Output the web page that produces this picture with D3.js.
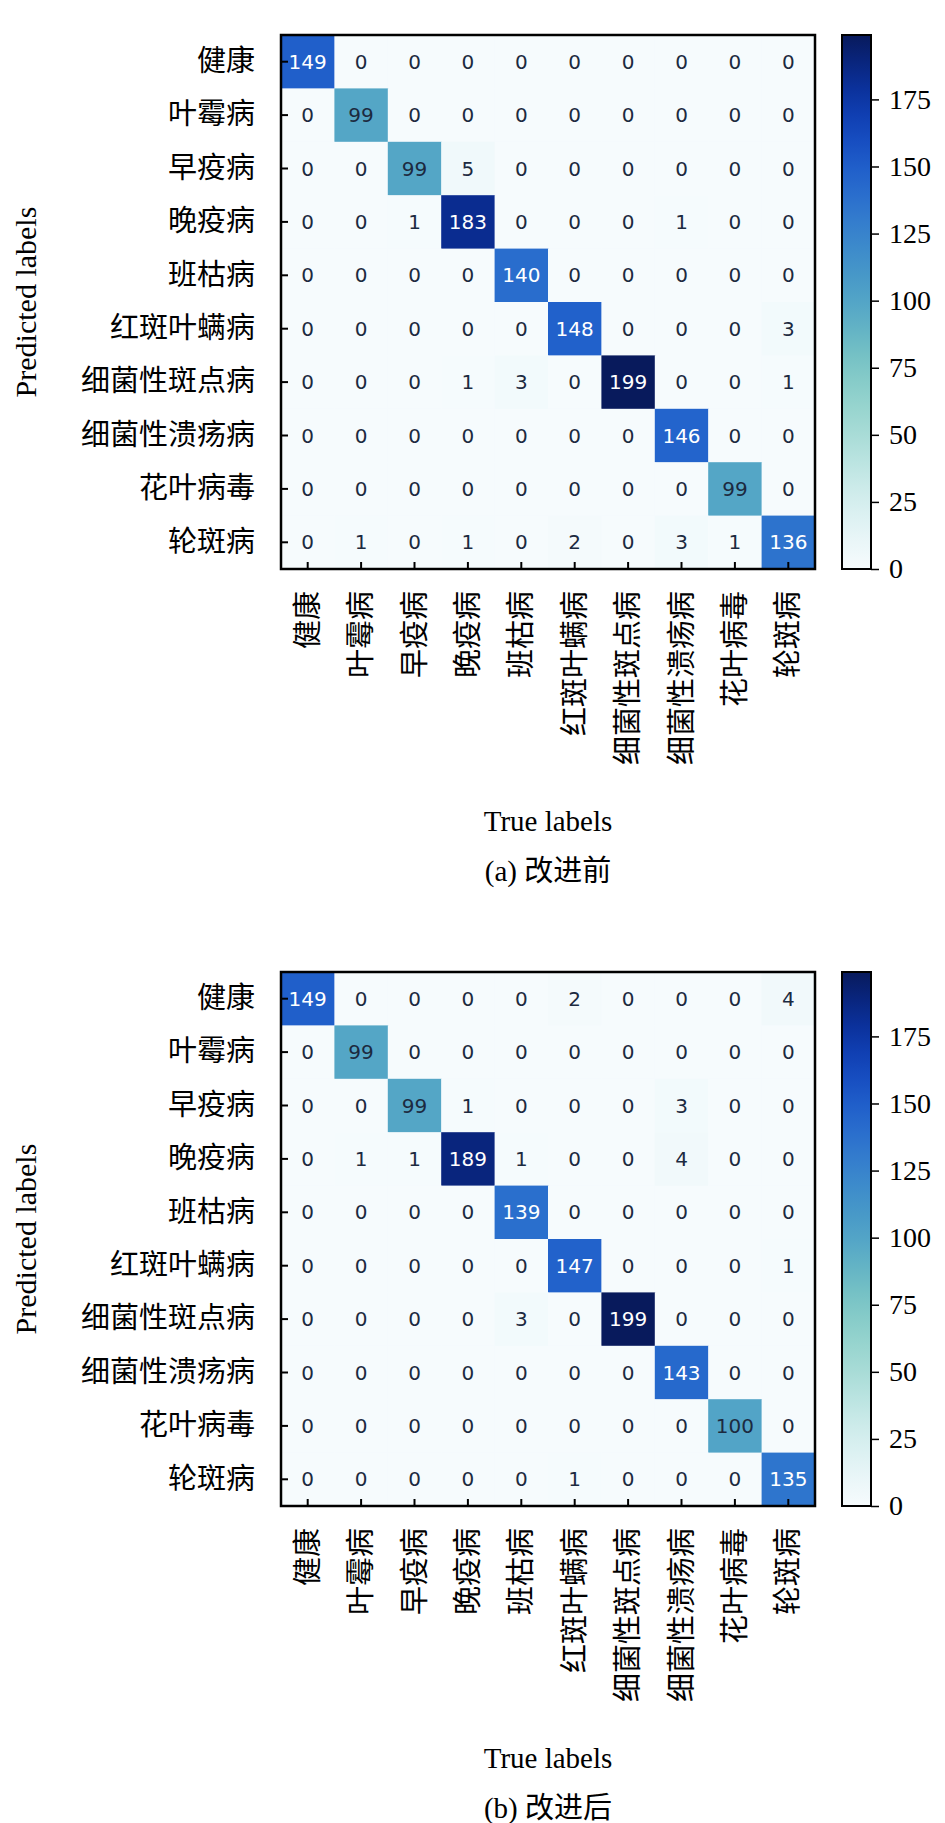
<!DOCTYPE html>
<meta charset="utf-8" />
<script src="https://d3js.org/d3.v7.min.js"></script>
<style>
  body { margin: 0; background: #fff; }
</style>
<div id="chart"></div>
<script>
  const labels = ['健康', '叶霉病', '早疫病', '晚疫病', '班枯病', '红斑叶螨病', '细菌性斑点病', '细菌性溃疡病', '花叶病毒', '轮斑病'];
  // rows = predicted, cols = true
  const matrixBefore = [
    [149, 0, 0, 0, 0, 0, 0, 0, 0, 0],
    [0, 99, 0, 0, 0, 0, 0, 0, 0, 0],
    [0, 0, 99, 5, 0, 0, 0, 0, 0, 0],
    [0, 0, 1, 183, 0, 0, 0, 1, 0, 0],
    [0, 0, 0, 0, 140, 0, 0, 0, 0, 0],
    [0, 0, 0, 0, 0, 148, 0, 0, 0, 3],
    [0, 0, 0, 1, 3, 0, 199, 0, 0, 1],
    [0, 0, 0, 0, 0, 0, 0, 146, 0, 0],
    [0, 0, 0, 0, 0, 0, 0, 0, 99, 0],
    [0, 1, 0, 1, 0, 2, 0, 3, 1, 136],
  ];
  const matrixAfter = [
    [149, 0, 0, 0, 0, 2, 0, 0, 0, 4],
    [0, 99, 0, 0, 0, 0, 0, 0, 0, 0],
    [0, 0, 99, 1, 0, 0, 0, 3, 0, 0],
    [0, 1, 1, 189, 1, 0, 0, 4, 0, 0],
    [0, 0, 0, 0, 139, 0, 0, 0, 0, 0],
    [0, 0, 0, 0, 0, 147, 0, 0, 0, 1],
    [0, 0, 0, 0, 3, 0, 199, 0, 0, 0],
    [0, 0, 0, 0, 0, 0, 0, 143, 0, 0],
    [0, 0, 0, 0, 0, 0, 0, 0, 100, 0],
    [0, 0, 0, 0, 0, 1, 0, 0, 0, 135],
  ];
  const colorTicks = [0, 25, 50, 75, 100, 125, 150, 175];
  const captions = ['(a) 改进前', '(b) 改进后'];

  const W = 945, H = 1823;
  const svg = d3.select('#chart').append('svg').attr('width', W).attr('height', H);
  const serif = '"Liberation Serif", "Times New Roman", serif';
  const cjk = '"Liberation Serif", "Noto Sans CJK SC", serif';
  // white -> teal -> blue -> navy, like the figure's colormap
  const cmapStops = ['#f6fbfd', '#d8eff1', '#a8dcd6', '#7fcbc3', '#4ea3c6', '#3a86cc', '#1f5fd0', '#0a35b0', '#081a5c'];
  const cmap = d3.interpolateRgbBasis(cmapStops);
  const color = d3.scaleSequential(cmap).domain([0, 199]);

  function panel(mat, top, caption) {
    const left = 281, size = 534;
    const g = svg.append('g').attr('transform', `translate(${left},${top})`);
    const x = d3.scaleBand().domain(d3.range(10)).range([0, size]);
    const y = d3.scaleBand().domain(d3.range(10)).range([0, size]);
    const cells = [];
    mat.forEach((row, i) => row.forEach((v, j) => cells.push({ i, j, v })));
    g.selectAll('rect.c').data(cells).join('rect')
      .attr('x', d => x(d.j)).attr('y', d => y(d.i))
      .attr('width', x.bandwidth() + 0.5).attr('height', y.bandwidth() + 0.5)
      .attr('fill', d => color(d.v));
    g.selectAll('text.v').data(cells).join('text')
      .attr('x', d => x(d.j) + x.bandwidth() / 2)
      .attr('y', d => y(d.i) + y.bandwidth() / 2)
      .attr('text-anchor', 'middle').attr('dominant-baseline', 'central')
      .attr('font-family', 'DejaVu Sans, sans-serif').attr('font-size', 20)
      .attr('fill', d => d.v > 110 ? '#fff' : '#1c2a40')
      .text(d => d.v);

    const yAxis = g.append('g').call(d3.axisLeft(y).tickFormat(i => labels[i]).tickSize(-7).tickPadding(26));
    yAxis.select('.domain').remove();
    yAxis.selectAll('line').attr('stroke-width', 2);
    yAxis.selectAll('text').attr('font-family', cjk).attr('font-size', 29).attr('fill', '#000');

    const xAxis = g.append('g').attr('transform', `translate(0,${size})`)
      .call(d3.axisBottom(x).tickFormat(i => labels[i]).tickSize(-7));
    xAxis.select('.domain').remove();
    xAxis.selectAll('line').attr('stroke-width', 2);
    xAxis.selectAll('text').attr('font-family', cjk).attr('font-size', 29).attr('fill', '#000')
      .attr('transform', 'rotate(-90)').attr('text-anchor', 'end')
      .attr('x', -22).attr('y', 0).attr('dy', '0.35em');

    g.append('rect').attr('width', size).attr('height', size)
      .attr('fill', 'none').attr('stroke', '#000').attr('stroke-width', 2.5);

    // colorbar
    const cb = svg.append('g').attr('transform', `translate(842,${top})`);
    const cy = d3.scaleLinear().domain([0, 199]).range([size, 0]);
    const grad = svg.append('defs').append('linearGradient')
      .attr('id', 'grad' + top).attr('x1', 0).attr('y1', 1).attr('x2', 0).attr('y2', 0);
    d3.range(0, 1.001, 0.05).forEach(t => grad.append('stop').attr('offset', t).attr('stop-color', cmap(t)));
    cb.append('rect').attr('width', 29).attr('height', size).attr('fill', `url(#grad${top})`)
      .attr('stroke', '#000').attr('stroke-width', 2);
    const cax = cb.append('g').attr('transform', 'translate(29,0)').call(d3.axisRight(cy).tickValues(colorTicks).tickSize(8).tickPadding(10));
    cax.select('.domain').remove();
    cax.selectAll('line').attr('stroke-width', 1.5);
    cax.selectAll('text').attr('font-family', serif).attr('font-size', 28).attr('fill', '#000');

    svg.append('text').attr('transform', `translate(36,${top + size / 2}) rotate(-90)`)
      .attr('text-anchor', 'middle').attr('font-family', serif).attr('font-size', 30).text('Predicted labels');
    svg.append('text').attr('x', left + size / 2).attr('y', top + size + 262)
      .attr('text-anchor', 'middle').attr('font-family', serif).attr('font-size', 29).text('True labels');
    svg.append('text').attr('x', left + size / 2).attr('y', top + size + 312)
      .attr('text-anchor', 'middle').attr('font-family', cjk).attr('font-size', 29).text(caption);
  }

  panel(matrixBefore, 35, captions[0]);
  panel(matrixAfter, 972, captions[1]);
</script>
